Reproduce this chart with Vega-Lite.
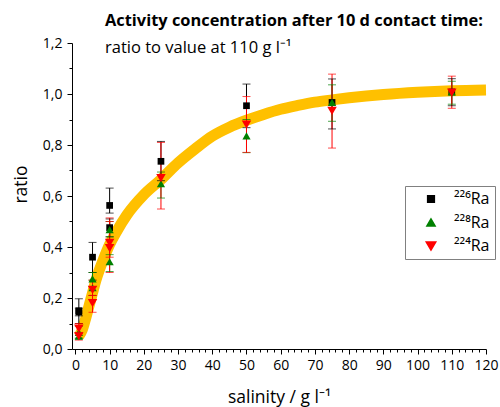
{
  "$schema": "https://vega.github.io/schema/vega-lite/v6.json",
  "autosize": "none",
  "width": 414,
  "height": 306,
  "padding": {"left": 72, "top": 43, "right": 14, "bottom": 58},
  "background": "white",
  "config": {
    "view": {"stroke": null},
    "font": "Open Sans",
    "point": {"opacity": 1},
    "legend": {"symbolOpacity": 1},
    "axis": {"labelFont": "Open Sans", "titleFont": "Open Sans", "labelColor": "black", "titleColor": "black", "domainColor": "black", "tickColor": "black", "grid": false}
  },
  "title": {
    "text": "Activity concentration after 10 d contact time:",
    "subtitle": "ratio to value at 110 g l⁻¹",
    "anchor": "start",
    "frame": "group",
    "dx": 33,
    "offset": -20,
    "font": "Open Sans",
    "fontSize": 16.4,
    "fontWeight": "bold",
    "color": "black",
    "subtitleFont": "Open Sans",
    "subtitleFontSize": 16.5,
    "subtitleColor": "black",
    "subtitlePadding": 10
  },
  "datasets": {
    "fit": [
      {"x": 1, "y": 0.05}, {"x": 2, "y": 0.075}, {"x": 3, "y": 0.12}, {"x": 4, "y": 0.17},
      {"x": 5, "y": 0.22}, {"x": 6, "y": 0.27}, {"x": 7, "y": 0.31}, {"x": 8, "y": 0.345},
      {"x": 10, "y": 0.41}, {"x": 12, "y": 0.46}, {"x": 15, "y": 0.525}, {"x": 20, "y": 0.605},
      {"x": 25, "y": 0.665}, {"x": 30, "y": 0.73}, {"x": 35, "y": 0.785}, {"x": 40, "y": 0.835},
      {"x": 45, "y": 0.87}, {"x": 50, "y": 0.897}, {"x": 55, "y": 0.92}, {"x": 60, "y": 0.94},
      {"x": 65, "y": 0.955}, {"x": 70, "y": 0.968}, {"x": 75, "y": 0.977}, {"x": 80, "y": 0.985},
      {"x": 90, "y": 0.998}, {"x": 100, "y": 1.007}, {"x": 110, "y": 1.013}, {"x": 120, "y": 1.016}
    ],
    "pts": [
      {"iso": "²²⁶Ra", "x": 1, "y": 0.15, "lo": 0.10, "hi": 0.197},
      {"iso": "²²⁶Ra", "x": 1, "y": 0.145, "lo": 0.13, "hi": 0.16},
      {"iso": "²²⁶Ra", "x": 5, "y": 0.36, "lo": 0.30, "hi": 0.418},
      {"iso": "²²⁶Ra", "x": 10, "y": 0.563, "lo": 0.533, "hi": 0.631},
      {"iso": "²²⁶Ra", "x": 10, "y": 0.476, "lo": 0.44, "hi": 0.51},
      {"iso": "²²⁶Ra", "x": 25, "y": 0.736, "lo": 0.66, "hi": 0.814},
      {"iso": "²²⁶Ra", "x": 50, "y": 0.954, "lo": 0.868, "hi": 1.039},
      {"iso": "²²⁶Ra", "x": 75, "y": 0.967, "lo": 0.863, "hi": 1.059},
      {"iso": "²²⁶Ra", "x": 110, "y": 1.008, "lo": 0.954, "hi": 1.06},
      {"iso": "²²⁸Ra", "x": 1, "y": 0.065, "lo": 0.043, "hi": 0.089},
      {"iso": "²²⁸Ra", "x": 1, "y": 0.05, "lo": 0.04, "hi": 0.063},
      {"iso": "²²⁸Ra", "x": 5, "y": 0.275, "lo": 0.245, "hi": 0.30},
      {"iso": "²²⁸Ra", "x": 5, "y": 0.24, "lo": 0.21, "hi": 0.27},
      {"iso": "²²⁸Ra", "x": 10, "y": 0.468, "lo": 0.44, "hi": 0.50},
      {"iso": "²²⁸Ra", "x": 10, "y": 0.342, "lo": 0.304, "hi": 0.37},
      {"iso": "²²⁸Ra", "x": 25, "y": 0.648, "lo": 0.592, "hi": 0.694},
      {"iso": "²²⁸Ra", "x": 50, "y": 0.836, "lo": 0.77, "hi": 0.90},
      {"iso": "²²⁸Ra", "x": 75, "y": 0.967, "lo": 0.893, "hi": 1.036},
      {"iso": "²²⁸Ra", "x": 110, "y": 1.008, "lo": 0.96, "hi": 1.05},
      {"iso": "²²⁴Ra", "x": 1, "y": 0.08, "lo": 0.06, "hi": 0.10},
      {"iso": "²²⁴Ra", "x": 1, "y": 0.05, "lo": 0.035, "hi": 0.065},
      {"iso": "²²⁴Ra", "x": 5, "y": 0.232, "lo": 0.21, "hi": 0.27},
      {"iso": "²²⁴Ra", "x": 5, "y": 0.18, "lo": 0.144, "hi": 0.21},
      {"iso": "²²⁴Ra", "x": 10, "y": 0.416, "lo": 0.36, "hi": 0.514},
      {"iso": "²²⁴Ra", "x": 10, "y": 0.396, "lo": 0.30, "hi": 0.50},
      {"iso": "²²⁴Ra", "x": 25, "y": 0.67, "lo": 0.549, "hi": 0.81},
      {"iso": "²²⁴Ra", "x": 50, "y": 0.88, "lo": 0.771, "hi": 0.99},
      {"iso": "²²⁴Ra", "x": 75, "y": 0.934, "lo": 0.788, "hi": 1.078},
      {"iso": "²²⁴Ra", "x": 110, "y": 1.005, "lo": 0.944, "hi": 1.07}
    ]
  },
  "resolve": {"axis": {"x": "independent", "y": "independent"}},
  "layer": [
    {
      "data": {"name": "fit"},
      "mark": {"type": "line", "color": "#FFC000", "strokeWidth": 11, "interpolate": "monotone"},
      "encoding": {
        "x": {"field": "x", "type": "quantitative", "scale": {"domain": [-1, 120], "nice": false, "zero": false},
          "axis": {"orient": "bottom", "values": [0,10,20,30,40,50,60,70,80,90,100,110,120], "tickSize": 5, "labelPadding": 4, "labelFontSize": 14, "title": "salinity / g l⁻¹", "titleFontSize": 17.5, "titleFontWeight": "normal", "titlePadding": 16, "labelFlush": false}},
        "y": {"field": "y", "type": "quantitative", "scale": {"domain": [0, 1.2], "nice": false},
          "axis": {"orient": "left", "values": [0,0.2,0.4,0.6,0.8,1.0,1.2], "tickSize": 5, "labelPadding": 5, "labelFontSize": 14, "labelExpr": "replace(format(datum.value, '.1f'), '.', ',')", "title": "ratio", "titleFontSize": 17.5, "titleFontWeight": "normal", "titlePadding": 12, "titleY": 141, "labelFlush": false}}
      }
    },
    {
      "data": {"name": "pts"},
      "mark": {"type": "rule", "strokeWidth": 1},
      "encoding": {
        "x": {"field": "x", "type": "quantitative", "axis": {"orient": "bottom", "values": [2,4,6,8,12,14,16,18,22,24,26,28,32,34,36,38,42,44,46,48,52,54,56,58,62,64,66,68,72,74,76,78,82,84,86,88,92,94,96,98,102,104,106,108,112,114,116,118], "labels": false, "domain": false, "tickSize": 3, "title": null}},
        "y": {"field": "lo", "type": "quantitative", "axis": {"orient": "left", "values": [0.1,0.3,0.5,0.7,0.9,1.1], "labels": false, "domain": false, "tickSize": 3, "title": null}},
        "y2": {"field": "hi"},
        "color": {"field": "iso", "type": "nominal", "scale": {"domain": ["²²⁶Ra", "²²⁸Ra", "²²⁴Ra"], "range": ["#000000", "#008000", "#FF0000"]},
          "legend": {"orient": "none", "legendX": 333, "legendY": 143, "title": null, "strokeColor": "#808080", "padding": 5, "labelFontSize": 16, "labelFont": "Open Sans", "labelColor": "black", "labelOffset": 15, "symbolOffset": 13, "rowPadding": 7.5, "symbolSize": 60, "symbolOpacity": 1}}
      }
    },
    {
      "data": {"name": "pts"},
      "mark": {"type": "tick", "orient": "horizontal", "size": 8, "thickness": 1},
      "encoding": {
        "x": {"field": "x", "type": "quantitative", "axis": null},
        "y": {"field": "lo", "type": "quantitative", "axis": null},
        "color": {"field": "iso", "type": "nominal"}
      }
    },
    {
      "data": {"name": "pts"},
      "mark": {"type": "tick", "orient": "horizontal", "size": 8, "thickness": 1},
      "encoding": {
        "x": {"field": "x", "type": "quantitative", "axis": null},
        "y": {"field": "hi", "type": "quantitative", "axis": null},
        "color": {"field": "iso", "type": "nominal"}
      }
    },
    {
      "data": {"name": "pts"},
      "mark": {"type": "point", "filled": true, "opacity": 1},
      "encoding": {
        "x": {"field": "x", "type": "quantitative", "axis": null},
        "y": {"field": "y", "type": "quantitative", "axis": null},
        "color": {"field": "iso", "type": "nominal"},
        "shape": {"field": "iso", "type": "nominal", "scale": {"domain": ["²²⁶Ra", "²²⁸Ra", "²²⁴Ra"], "range": ["square", "triangle-up", "triangle-down"]},
          "legend": {"orient": "none", "legendX": 333, "legendY": 143, "title": null, "strokeColor": "#808080", "padding": 5, "labelFontSize": 16, "labelFont": "Open Sans", "labelColor": "black", "labelOffset": 15, "symbolOffset": 13, "rowPadding": 7.5, "symbolSize": 60, "symbolOpacity": 1}},
        "size": {"field": "iso", "type": "nominal", "scale": {"domain": ["²²⁶Ra", "²²⁸Ra", "²²⁴Ra"], "range": [45, 90, 90]}, "legend": null}
      }
    }
  ]
}
